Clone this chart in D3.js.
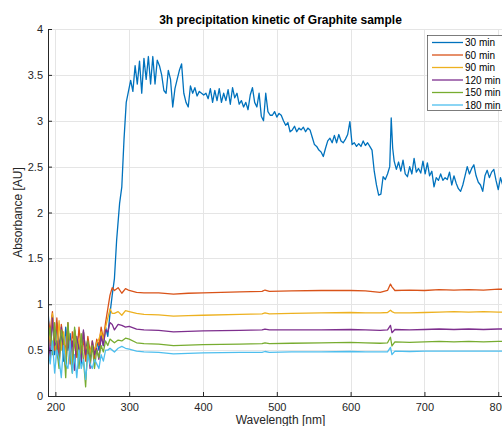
<!DOCTYPE html>
<html>
<head>
<meta charset="utf-8">
<script src="https://cdn.jsdelivr.net/npm/d3@7"></script>
<style>
  body { margin: 0; background: #fff; }
  svg { font-family: "Liberation Sans", Arial, sans-serif; }
</style>
</head>
<body>
<svg id="chart" width="502" height="426"></svg>
<script>
// Series names and MATLAB default line colours
var seriesNames = ['30 min', '60 min', '90 min', '120 min', '150 min', '180 min'];
var seriesColors = ['#0072BD', '#D95319', '#EDB120', '#7E2F8E', '#77AC30', '#4DBEEE'];

// Noisy UV part, shared wavelengths (nm)
var lowWl = [190, 193, 196, 199, 202, 205, 208, 211, 214, 217, 220, 223, 226, 229, 232,
  235, 238, 241, 244, 247, 250, 253, 256, 259, 262, 265, 268, 271, 274, 277];

var low30 = [0.93, 0.6, 0.88, 0.45, 0.8, 0.55, 0.7, 0.38, 0.75, 0.5, 0.68, 0.3, 0.72, 0.45, 0.6,
  0.35, 0.7, 0.5, 0.62, 0.4, 0.55, 0.45, 0.6, 0.5, 0.7, 0.55, 0.75, 0.65, 0.9, 1.1];
var low60 = [0.85, 0.7, 0.92, 0.5, 0.85, 0.4, 0.78, 0.6, 0.5, 0.8, 0.35, 0.7, 0.55, 0.42, 0.75,
  0.5, 0.6, 0.38, 0.65, 0.48, 0.58, 0.4, 0.62, 0.55, 0.75, 0.62, 0.8, 0.95, 1.1, 1.18];
var low90 = [0.78, 0.55, 0.9, 0.65, 0.45, 0.82, 0.5, 0.7, 0.4, 0.75, 0.55, 0.35, 0.72, 0.5, 0.62,
  0.42, 0.7, 0.5, 0.55, 0.45, 0.6, 0.5, 0.58, 0.62, 0.7, 0.6, 0.75, 0.85, 0.95, 0.9];
var low120 = [0.7, 0.4, 0.85, 0.55, 0.6, 0.35, 0.75, 0.5, 0.3, 0.7, 0.45, 0.6, 0.28, 0.65, 0.5,
  0.38, 0.72, 0.45, 0.55, 0.3, 0.6, 0.45, 0.52, 0.4, 0.65, 0.55, 0.72, 0.7, 0.8, 0.78];
var low150 = [0.6, 0.75, 0.45, 0.8, 0.5, 0.3, 0.72, 0.6, 0.2, 0.8, 0.45, 0.25, 0.75, 0.55, 0.3,
  0.68, 0.4, 0.1, 0.6, 0.35, 0.55, 0.3, 0.5, 0.42, 0.55, 0.48, 0.6, 0.55, 0.62, 0.6];
var low180 = [0.5, 0.35, 0.6, 0.25, 0.5, 0.4, 0.2, 0.55, 0.35, 0.3, 0.6, 0.25, 0.45, 0.2, 0.5,
  0.3, 0.4, 0.18, 0.45, 0.35, 0.3, 0.4, 0.35, 0.3, 0.45, 0.38, 0.5, 0.5, 0.52, 0.5];

// 30 min, visible part (nm / AU)
var wl30 = [280, 283, 287, 290, 293, 296, 299, 302, 305, 308, 311, 314, 317, 320, 323, 326, 329,
  332, 335, 338, 341, 344, 347, 350, 353, 356, 359, 362, 365, 368, 371, 374, 377, 380, 383, 386,
  389, 392, 395, 398, 401, 404, 407, 410, 413, 416, 419, 422, 425, 428, 431, 434, 437, 440, 443,
  446, 449, 452, 455, 458, 461, 464, 467, 470, 473, 476, 479, 482, 485, 488, 491, 494, 497, 500,
  503, 506, 509, 512, 515, 518, 521, 524, 527, 530, 533, 536, 539, 542, 545, 548, 551, 554, 557,
  560, 563, 566, 569, 572, 575, 578, 581, 584, 587, 590, 593, 596, 599, 602, 605, 608, 611, 614,
  617, 620, 623, 626, 629, 632, 635, 638, 641, 644, 647, 650, 653, 655, 657, 659, 662, 665, 668,
  671, 674, 677, 680, 683, 686, 689, 692, 695, 698, 701, 704, 707, 710, 713, 716, 719, 722, 725,
  728, 731, 734, 737, 740, 743, 746, 749, 752, 755, 758, 761, 764, 767, 770, 773, 776, 779, 782,
  785, 788, 791, 794, 797, 800, 803, 806, 809, 812, 815, 818];
var abs30 = [1.28, 1.7, 2.1, 2.28, 2.8, 3.2, 3.32, 3.44, 3.32, 3.6, 3.4, 3.65, 3.3, 3.68, 3.45, 3.7, 3.4,
  3.7, 3.4, 3.66, 3.6, 3.5, 3.33, 3.3, 3.55, 3.45, 3.15, 3.35, 3.45, 3.55, 3.62, 3.3, 3.2, 3.15, 3.38, 3.3,
  3.36, 3.27, 3.32, 3.3, 3.28, 3.3, 3.24, 3.35, 3.2, 3.33, 3.22, 3.35, 3.2, 3.3, 3.22, 3.34, 3.18, 3.36, 3.25,
  3.3, 3.18, 3.22, 3.15, 3.2, 3.12, 3.28, 3.36, 3.2, 3.15, 3.3, 3.05, 3.0, 3.3, 3.1, 3.06, 3.06, 3.1, 3.04,
  3.08, 3.06, 3.0, 2.95, 2.98, 2.88, 2.9, 2.94, 2.88, 2.92, 2.9, 2.93, 2.88, 2.92, 2.9, 2.82, 2.74, 2.72, 2.68,
  2.66, 2.61, 2.7, 2.78, 2.81, 2.76, 2.84, 2.76, 2.85, 2.78, 2.76, 2.8, 2.85, 2.99, 2.74, 2.76, 2.72, 2.75, 2.72,
  2.78, 2.73, 2.76, 2.72, 2.68, 2.45, 2.3, 2.19, 2.2, 2.39, 2.36, 2.42, 2.5, 3.03, 2.7, 2.56, 2.47, 2.55, 2.45,
  2.57, 2.42, 2.39, 2.5, 2.42, 2.59, 2.44, 2.48, 2.43, 2.56, 2.42, 2.54, 2.4, 2.45, 2.28, 2.38, 2.35, 2.42, 2.35,
  2.38, 2.36, 2.44, 2.3, 2.4, 2.32, 2.26, 2.23, 2.3, 2.4, 2.5, 2.42, 2.48, 2.52, 2.4, 2.33, 2.3, 2.23, 2.4,
  2.46, 2.38, 2.44, 2.47, 2.35, 2.25, 2.38, 2.3, 2.42, 2.34, 2.4, 2.36];

// Flat part of the later samples, shared wavelengths (nm)
var flatWl = [280, 285, 290, 295, 300, 310, 320, 340, 360, 380, 400, 450, 480, 484, 490, 520,
  560, 600, 620, 640, 650, 654, 656, 660, 680, 700, 720, 740, 760, 780, 800, 820];
var flat60 = [1.15, 1.18, 1.12, 1.17, 1.15, 1.13, 1.125, 1.125, 1.11, 1.12, 1.125, 1.135, 1.14, 1.155, 1.14, 1.145,
  1.15, 1.15, 1.145, 1.13, 1.15, 1.22, 1.19, 1.15, 1.155, 1.15, 1.16, 1.155, 1.16, 1.155, 1.165, 1.16];
var flat90 = [0.9, 0.92, 0.88, 0.93, 0.92, 0.9, 0.89, 0.885, 0.87, 0.875, 0.88, 0.89, 0.895, 0.905, 0.895, 0.9,
  0.905, 0.91, 0.905, 0.905, 0.91, 0.935, 0.92, 0.905, 0.905, 0.91, 0.915, 0.92, 0.915, 0.92, 0.915, 0.915];
var flat120 = [0.72, 0.78, 0.77, 0.75, 0.76, 0.73, 0.72, 0.715, 0.7, 0.705, 0.71, 0.715, 0.72, 0.73, 0.72, 0.72,
  0.72, 0.725, 0.72, 0.715, 0.72, 0.77, 0.69, 0.725, 0.72, 0.725, 0.73, 0.725, 0.73, 0.725, 0.73, 0.73];
var flat150 = [0.58, 0.61, 0.6, 0.63, 0.62, 0.58, 0.57, 0.565, 0.55, 0.555, 0.56, 0.565, 0.57, 0.58, 0.57, 0.575,
  0.58, 0.585, 0.58, 0.575, 0.58, 0.64, 0.545, 0.59, 0.585, 0.59, 0.595, 0.59, 0.595, 0.59, 0.595, 0.595];
var flat180 = [0.48, 0.52, 0.54, 0.52, 0.51, 0.49, 0.48, 0.475, 0.46, 0.465, 0.47, 0.475, 0.475, 0.485, 0.475, 0.48,
  0.48, 0.485, 0.48, 0.48, 0.48, 0.53, 0.45, 0.49, 0.485, 0.49, 0.49, 0.49, 0.49, 0.49, 0.49, 0.49];

// Axis ticks
var xTicks = [200, 300, 400, 500, 600, 700, 800];
var yTicks = [0, 0.5, 1, 1.5, 2, 2.5, 3, 3.5, 4];

// Glue the two parts of each spectrum into [wl, abs] pairs
function join(wlA, vA, wlB, vB) {
  var pts = wlA.map(function(w, i) { return [w, vA[i]]; });
  return pts.concat(wlB.map(function(w, i) { return [w, vB[i]]; }));
}

var series = [
  join(lowWl, low30, wl30, abs30),
  join(lowWl, low60, flatWl, flat60),
  join(lowWl, low90, flatWl, flat90),
  join(lowWl, low120, flatWl, flat120),
  join(lowWl, low150, flatWl, flat150),
  join(lowWl, low180, flatWl, flat180)
];

var svg = d3.select('#chart');

// Plot box; right side runs past the window like in the original figure
var plotLeft = 48, plotRight = 513, plotTop = 29, plotBottom = 396;

var x = d3.scaleLinear().domain([190, 820]).range([plotLeft, plotRight]);
var y = d3.scaleLinear().domain([0, 4]).range([plotBottom, plotTop]);

var axisColor = '#262626';

// Grid lines
var grid = svg.append('g').attr('stroke', '#e5e5e5').attr('stroke-width', 1);
grid.selectAll('.gx').data(xTicks).enter().append('line')
  .attr('x1', function(d) { return Math.round(x(d)) + 0.5; })
  .attr('x2', function(d) { return Math.round(x(d)) + 0.5; })
  .attr('y1', plotTop).attr('y2', plotBottom);
grid.selectAll('.gy').data(yTicks).enter().append('line')
  .attr('y1', function(d) { return Math.round(y(d)) + 0.5; })
  .attr('y2', function(d) { return Math.round(y(d)) + 0.5; })
  .attr('x1', plotLeft).attr('x2', plotRight);

// Clip lines to the axes box
svg.append('clipPath').attr('id', 'clip')
  .append('rect').attr('x', plotLeft).attr('y', plotTop)
  .attr('width', plotRight - plotLeft).attr('height', plotBottom - plotTop);

var line = d3.line()
  .x(function(d) { return x(d[0]); })
  .y(function(d) { return y(d[1]); });

svg.append('g').attr('clip-path', 'url(#clip)')
  .selectAll('path').data(series).enter().append('path')
  .attr('d', line)
  .attr('fill', 'none')
  .attr('stroke', function(d, i) { return seriesColors[i]; })
  .attr('stroke-width', 1.3)
  .attr('stroke-linejoin', 'round');

// Axes, MATLAB style: ticks pointing inward, no top/right box
var yAxis = d3.axisLeft(y).tickValues(yTicks).tickFormat(function(d) { return String(d); })
  .tickSizeInner(-4).tickSizeOuter(0).tickPadding(5);
var xAxis = d3.axisBottom(x).tickValues(xTicks).tickFormat(function(d) { return String(d); })
  .tickSizeInner(-4).tickSizeOuter(0).tickPadding(7);

var gy = svg.append('g').attr('transform', 'translate(' + plotLeft + ',0)').call(yAxis);
var gx = svg.append('g').attr('transform', 'translate(0,' + plotBottom + ')').call(xAxis);

[gx, gy].forEach(function(g) {
  g.selectAll('path, line').attr('stroke', axisColor);
  g.selectAll('text').attr('fill', axisColor)
    .style('font-size', '11px')
    .style('font-family', '"Liberation Sans", Arial, sans-serif');
});

// Title and axis labels
svg.append('text')
  .attr('x', (plotLeft + plotRight) / 2).attr('y', 24)
  .attr('text-anchor', 'middle')
  .style('font-size', '12px').style('font-weight', 'bold')
  .attr('fill', '#000')
  .text('3h precipitation kinetic of Graphite sample');

svg.append('text')
  .attr('x', (plotLeft + plotRight) / 2).attr('y', 424)
  .attr('text-anchor', 'middle')
  .style('font-size', '12px').attr('fill', axisColor)
  .text('Wavelength [nm]');

svg.append('text')
  .attr('transform', 'translate(22,' + ((plotTop + plotBottom) / 2) + ') rotate(-90)')
  .attr('text-anchor', 'middle')
  .style('font-size', '12px').attr('fill', axisColor)
  .text('Absorbance [AU]');

// Legend box in the upper right corner
var legend = svg.append('g');
legend.append('rect')
  .attr('x', 427.5).attr('y', 35.5).attr('width', 90).attr('height', 75)
  .attr('fill', '#fff').attr('stroke', axisColor).attr('stroke-width', 0.6);

var rows = legend.selectAll('g.row').data(seriesNames).enter().append('g')
  .attr('transform', function(d, i) { return 'translate(0,' + (42.5 + i * 12.5) + ')'; });
rows.append('line')
  .attr('x1', 432).attr('x2', 463).attr('y1', 0).attr('y2', 0)
  .attr('stroke', function(d, i) { return seriesColors[i]; })
  .attr('stroke-width', 1.3);
rows.append('text')
  .attr('x', 465).attr('y', 0).attr('dy', '0.35em')
  .style('font-size', '10px').attr('fill', '#000')
  .text(function(d) { return d; });
</script>
</body>
</html>
